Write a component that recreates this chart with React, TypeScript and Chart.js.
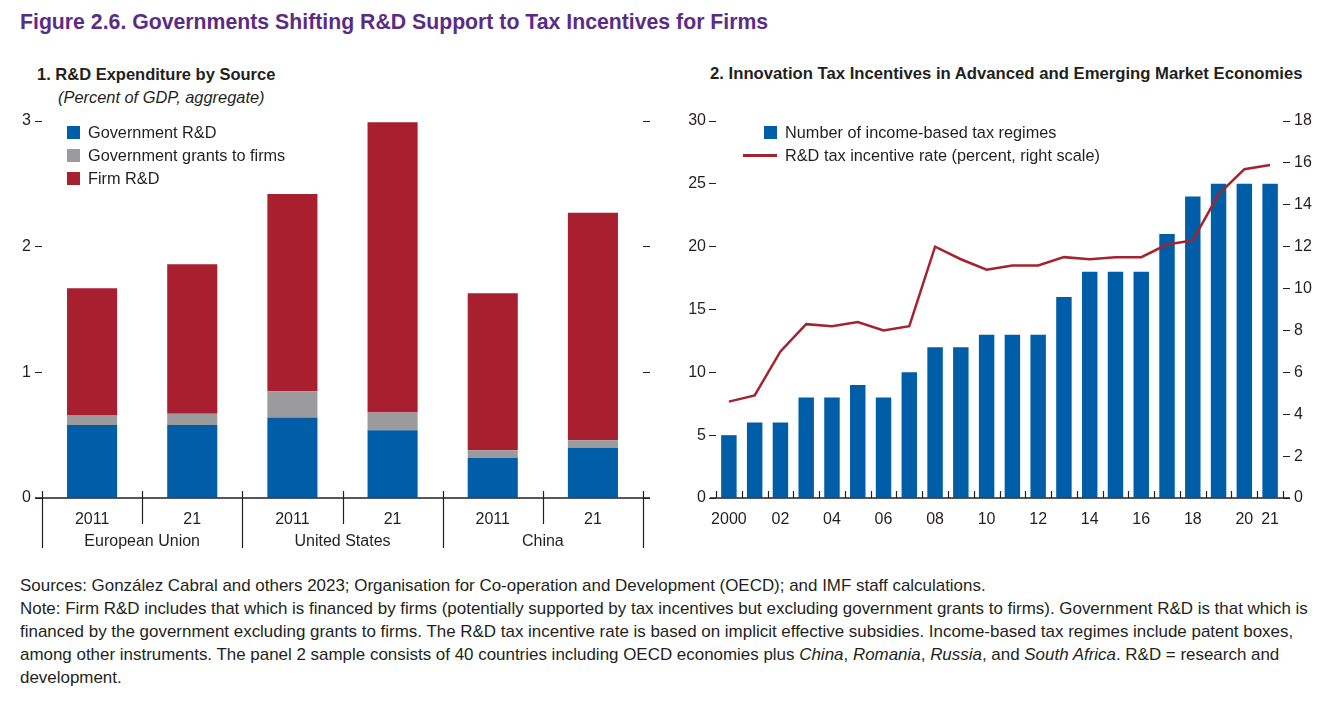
import React, { useEffect, useRef } from "react";
import { Chart, registerables } from "chart.js";

Chart.register(...registerables);

// ---------- Data ----------
const p1Categories = ["2011", "21", "2011", "21", "2011", "21"];
const p1Groups = ["European Union", "United States", "China"];
const govRD = [0.58, 0.58, 0.64, 0.54, 0.32, 0.4];
const govGrants = [0.08, 0.09, 0.21, 0.14, 0.06, 0.06];
const firmRD = [1.01, 1.19, 1.57, 2.31, 1.25, 1.81];

const years = [
  "2000", "2001", "2002", "2003", "2004", "2005", "2006", "2007", "2008", "2009", "2010",
  "2011", "2012", "2013", "2014", "2015", "2016", "2017", "2018", "2019", "2020", "2021",
];
const yearTickLabels = [
  "2000", "", "02", "", "04", "", "06", "", "08", "", "10",
  "", "12", "", "14", "", "16", "", "18", "", "20", "21",
];
const taxRegimes = [5, 6, 6, 8, 8, 9, 8, 10, 12, 12, 13, 13, 13, 16, 18, 18, 18, 21, 24, 25, 25, 25];
const rdTaxRate = [4.6, 4.9, 7.0, 8.3, 8.2, 8.4, 8.0, 8.2, 12.0, 11.4, 10.9, 11.1, 11.1, 11.5, 11.4, 11.5, 11.5, 12.1, 12.3, 14.5, 15.7, 15.9];

// ---------- Style ----------
const FONT = "'Liberation Sans', Arial, sans-serif";
const BLUE = "#005ea8";
const GRAY = "#9b9b9e";
const RED = "#a81f2f";
const LINE_RED = "#a3232f";
const INK = "#231f20";
const PURPLE = "#5b2c86";

Chart.defaults.font.family = FONT;
Chart.defaults.font.size = 16;
Chart.defaults.color = INK;

const panel1Decor = {
  id: "panel1Decor",
  afterDraw(chart: any) {
    const { ctx, chartArea } = chart;
    const x = chart.scales.x;
    const b = chartArea.bottom;
    ctx.save();
    ctx.strokeStyle = INK;
    ctx.lineWidth = 1.5;
    ctx.beginPath();
    ctx.moveTo(chartArea.left - 7, b);
    ctx.lineTo(chartArea.right + 7, b);
    ctx.stroke();
    ctx.lineWidth = 1.2;
    for (let i = 0; i <= p1Categories.length; i++) {
      const px = Math.round(x.getPixelForValue(i - 0.5)) + 0.5;
      ctx.beginPath();
      ctx.moveTo(px, b - 7);
      ctx.lineTo(px, i % 2 === 0 ? b + 50 : b + 26);
      ctx.stroke();
    }
    ctx.fillStyle = INK;
    ctx.font = `16px ${FONT}`;
    ctx.textAlign = "center";
    ctx.textBaseline = "middle";
    p1Groups.forEach((g, k) => {
      const cx = (x.getPixelForValue(2 * k) + x.getPixelForValue(2 * k + 1)) / 2;
      ctx.fillText(g, cx, b + 44);
    });
    ctx.restore();
  },
};

const panel2Decor = {
  id: "panel2Decor",
  afterDraw(chart: any) {
    const { ctx, chartArea } = chart;
    const x = chart.scales.x;
    const b = chartArea.bottom;
    ctx.save();
    ctx.strokeStyle = INK;
    ctx.lineWidth = 1.5;
    ctx.beginPath();
    ctx.moveTo(chartArea.left - 6, b);
    ctx.lineTo(chartArea.right + 7, b);
    ctx.stroke();
    ctx.lineWidth = 1.2;
    for (let i = 0; i <= years.length; i++) {
      const px = Math.round(x.getPixelForValue(i - 0.5)) + 0.5;
      ctx.beginPath();
      ctx.moveTo(px, b - 7);
      ctx.lineTo(px, b);
      ctx.stroke();
    }
    ctx.restore();
  },
};

function Panel1() {
  const ref = useRef<HTMLCanvasElement>(null);
  useEffect(() => {
    const chart = new Chart(ref.current!, {
      type: "bar",
      data: {
        labels: p1Categories,
        datasets: [
          { label: "Government R&D", data: govRD, backgroundColor: BLUE },
          { label: "Government grants to firms", data: govGrants, backgroundColor: GRAY },
          { label: "Firm R&D", data: firmRD, backgroundColor: RED },
        ],
      },
      options: {
        animation: false,
        responsive: false,
        events: [],
        layout: { padding: { top: 21, left: 0, right: 0, bottom: 0 } },
        datasets: { bar: { categoryPercentage: 1, barPercentage: 0.5 } },
        plugins: { legend: { display: false }, tooltip: { enabled: false } },
        scales: {
          x: {
            stacked: true,
            offset: true,
            grid: { display: false, drawTicks: false },
            border: { display: false },
            ticks: { padding: 12, autoSkip: false, maxRotation: 0 },
            afterFit: (s: any) => { s.height = 62; },
          },
          y: {
            stacked: true,
            min: 0,
            max: 3,
            ticks: { stepSize: 1, padding: 4 },
            grid: { drawOnChartArea: false, drawTicks: true, tickLength: 7, color: INK },
            border: { display: false },
            afterFit: (s: any) => { s.width = 42; },
          },
          y2: {
            position: "right",
            display: true,
            min: 0,
            max: 3,
            ticks: { stepSize: 1, display: false },
            grid: { drawOnChartArea: false, drawTicks: true, tickLength: 7, color: INK },
            border: { display: false },
            afterFit: (s: any) => { s.width = 27; },
          },
        },
      },
      plugins: [panel1Decor],
    });
    return () => chart.destroy();
  }, []);
  return <canvas ref={ref} width={670} height={460} style={{ position: "absolute", left: 0, top: 100 }} />;
}

function Panel2() {
  const ref = useRef<HTMLCanvasElement>(null);
  useEffect(() => {
    const chart = new Chart(ref.current!, {
      type: "bar",
      data: {
        labels: years,
        datasets: [
          {
            type: "line",
            label: "R&D tax incentive rate (percent, right scale)",
            data: rdTaxRate,
            yAxisID: "y1",
            borderColor: LINE_RED,
            borderWidth: 2.5,
            pointRadius: 0,
            tension: 0,
            order: 0,
          } as any,
          {
            type: "bar",
            label: "Number of income-based tax regimes",
            data: taxRegimes,
            yAxisID: "y",
            backgroundColor: BLUE,
            categoryPercentage: 1,
            barPercentage: 0.6,
            order: 1,
          },
        ],
      },
      options: {
        animation: false,
        responsive: false,
        events: [],
        layout: { padding: { top: 21, left: 0, right: 0, bottom: 0 } },
        plugins: { legend: { display: false }, tooltip: { enabled: false } },
        scales: {
          x: {
            offset: true,
            grid: { display: false, drawTicks: false, offset: true },
            border: { display: false },
            ticks: {
              padding: 12,
              autoSkip: false,
              maxRotation: 0,
              callback: (_v: any, i: number) => yearTickLabels[i],
            },
            afterFit: (s: any) => { s.height = 42; },
          },
          y: {
            min: 0,
            max: 30,
            ticks: { stepSize: 5, padding: 3 },
            grid: { drawOnChartArea: false, drawTicks: true, tickLength: 7, color: INK },
            border: { display: false },
            afterFit: (s: any) => { s.width = 36; },
          },
          y1: {
            position: "right",
            min: 0,
            max: 18,
            ticks: { stepSize: 2, padding: 4 },
            grid: { drawOnChartArea: false, drawTicks: true, tickLength: 7, color: INK },
            border: { display: false },
            afterFit: (s: any) => { s.width = 61; },
          },
        },
      },
      plugins: [panel2Decor],
    });
    return () => chart.destroy();
  }, []);
  return <canvas ref={ref} width={664} height={440} style={{ position: "absolute", left: 680, top: 100 }} />;
}

const txt = (extra: React.CSSProperties): React.CSSProperties => ({
  position: "absolute",
  whiteSpace: "nowrap",
  fontFamily: FONT,
  color: INK,
  fontSize: 16.3,
  lineHeight: "20px",
  ...extra,
});

function Swatch({ left, top, color }: { left: number; top: number; color: string }) {
  return <div style={{ position: "absolute", left, top, width: 13, height: 13, background: color }} />;
}

export default function App() {
  return (
    <div style={{ position: "absolute", left: 0, top: 0, width: 1344, height: 704, background: "#fff", overflow: "hidden" }}>
      <div style={txt({ left: 20, top: 8, fontSize: 21.25, lineHeight: "28px", fontWeight: 700, color: PURPLE })}>
        Figure 2.6. Governments Shifting R&amp;D Support to Tax Incentives for Firms
      </div>
      <div style={txt({ left: 37, top: 64, fontSize: 16.5, fontWeight: 700 })}>1. R&amp;D Expenditure by Source</div>
      <div style={txt({ left: 58, top: 87, fontSize: 16.4, fontStyle: "italic" })}>(Percent of GDP, aggregate)</div>
      <div style={txt({ left: 710, top: 64, fontSize: 16.7, fontWeight: 700 })}>
        2. Innovation Tax Incentives in Advanced and Emerging Market Economies
      </div>

      <Panel1 />
      <Panel2 />

      {/* Panel 1 legend */}
      <Swatch left={67} top={126} color={BLUE} />
      <div style={txt({ left: 88, top: 122 })}>Government R&amp;D</div>
      <Swatch left={67} top={149} color={GRAY} />
      <div style={txt({ left: 88, top: 145 })}>Government grants to firms</div>
      <Swatch left={67} top={172} color={RED} />
      <div style={txt({ left: 88, top: 168 })}>Firm R&amp;D</div>

      {/* Panel 2 legend */}
      <Swatch left={764} top={126} color={BLUE} />
      <div style={txt({ left: 785, top: 122 })}>Number of income-based tax regimes</div>
      <div style={{ position: "absolute", left: 743, top: 154, width: 34, height: 2.5, background: LINE_RED }} />
      <div style={txt({ left: 785, top: 145 })}>R&amp;D tax incentive rate (percent, right scale)</div>

      {/* Notes */}
      <div style={txt({ left: 20, top: 574, fontSize: 16.95, lineHeight: "23px" })}>
        <div>Sources: González Cabral and others 2023; Organisation for Co-operation and Development (OECD); and IMF staff calculations.</div>
        <div>Note: Firm R&amp;D includes that which is financed by firms (potentially supported by tax incentives but excluding government grants to firms). Government R&amp;D is that which is</div>
        <div>financed by the government excluding grants to firms. The R&amp;D tax incentive rate is based on implicit effective subsidies. Income-based tax regimes include patent boxes,</div>
        <div>
          among other instruments. The panel 2 sample consists of 40 countries including OECD economies plus <i>China</i>, <i>Romania</i>, <i>Russia</i>, and <i>South Africa</i>. R&amp;D = research and
        </div>
        <div>development.</div>
      </div>
    </div>
  );
}
